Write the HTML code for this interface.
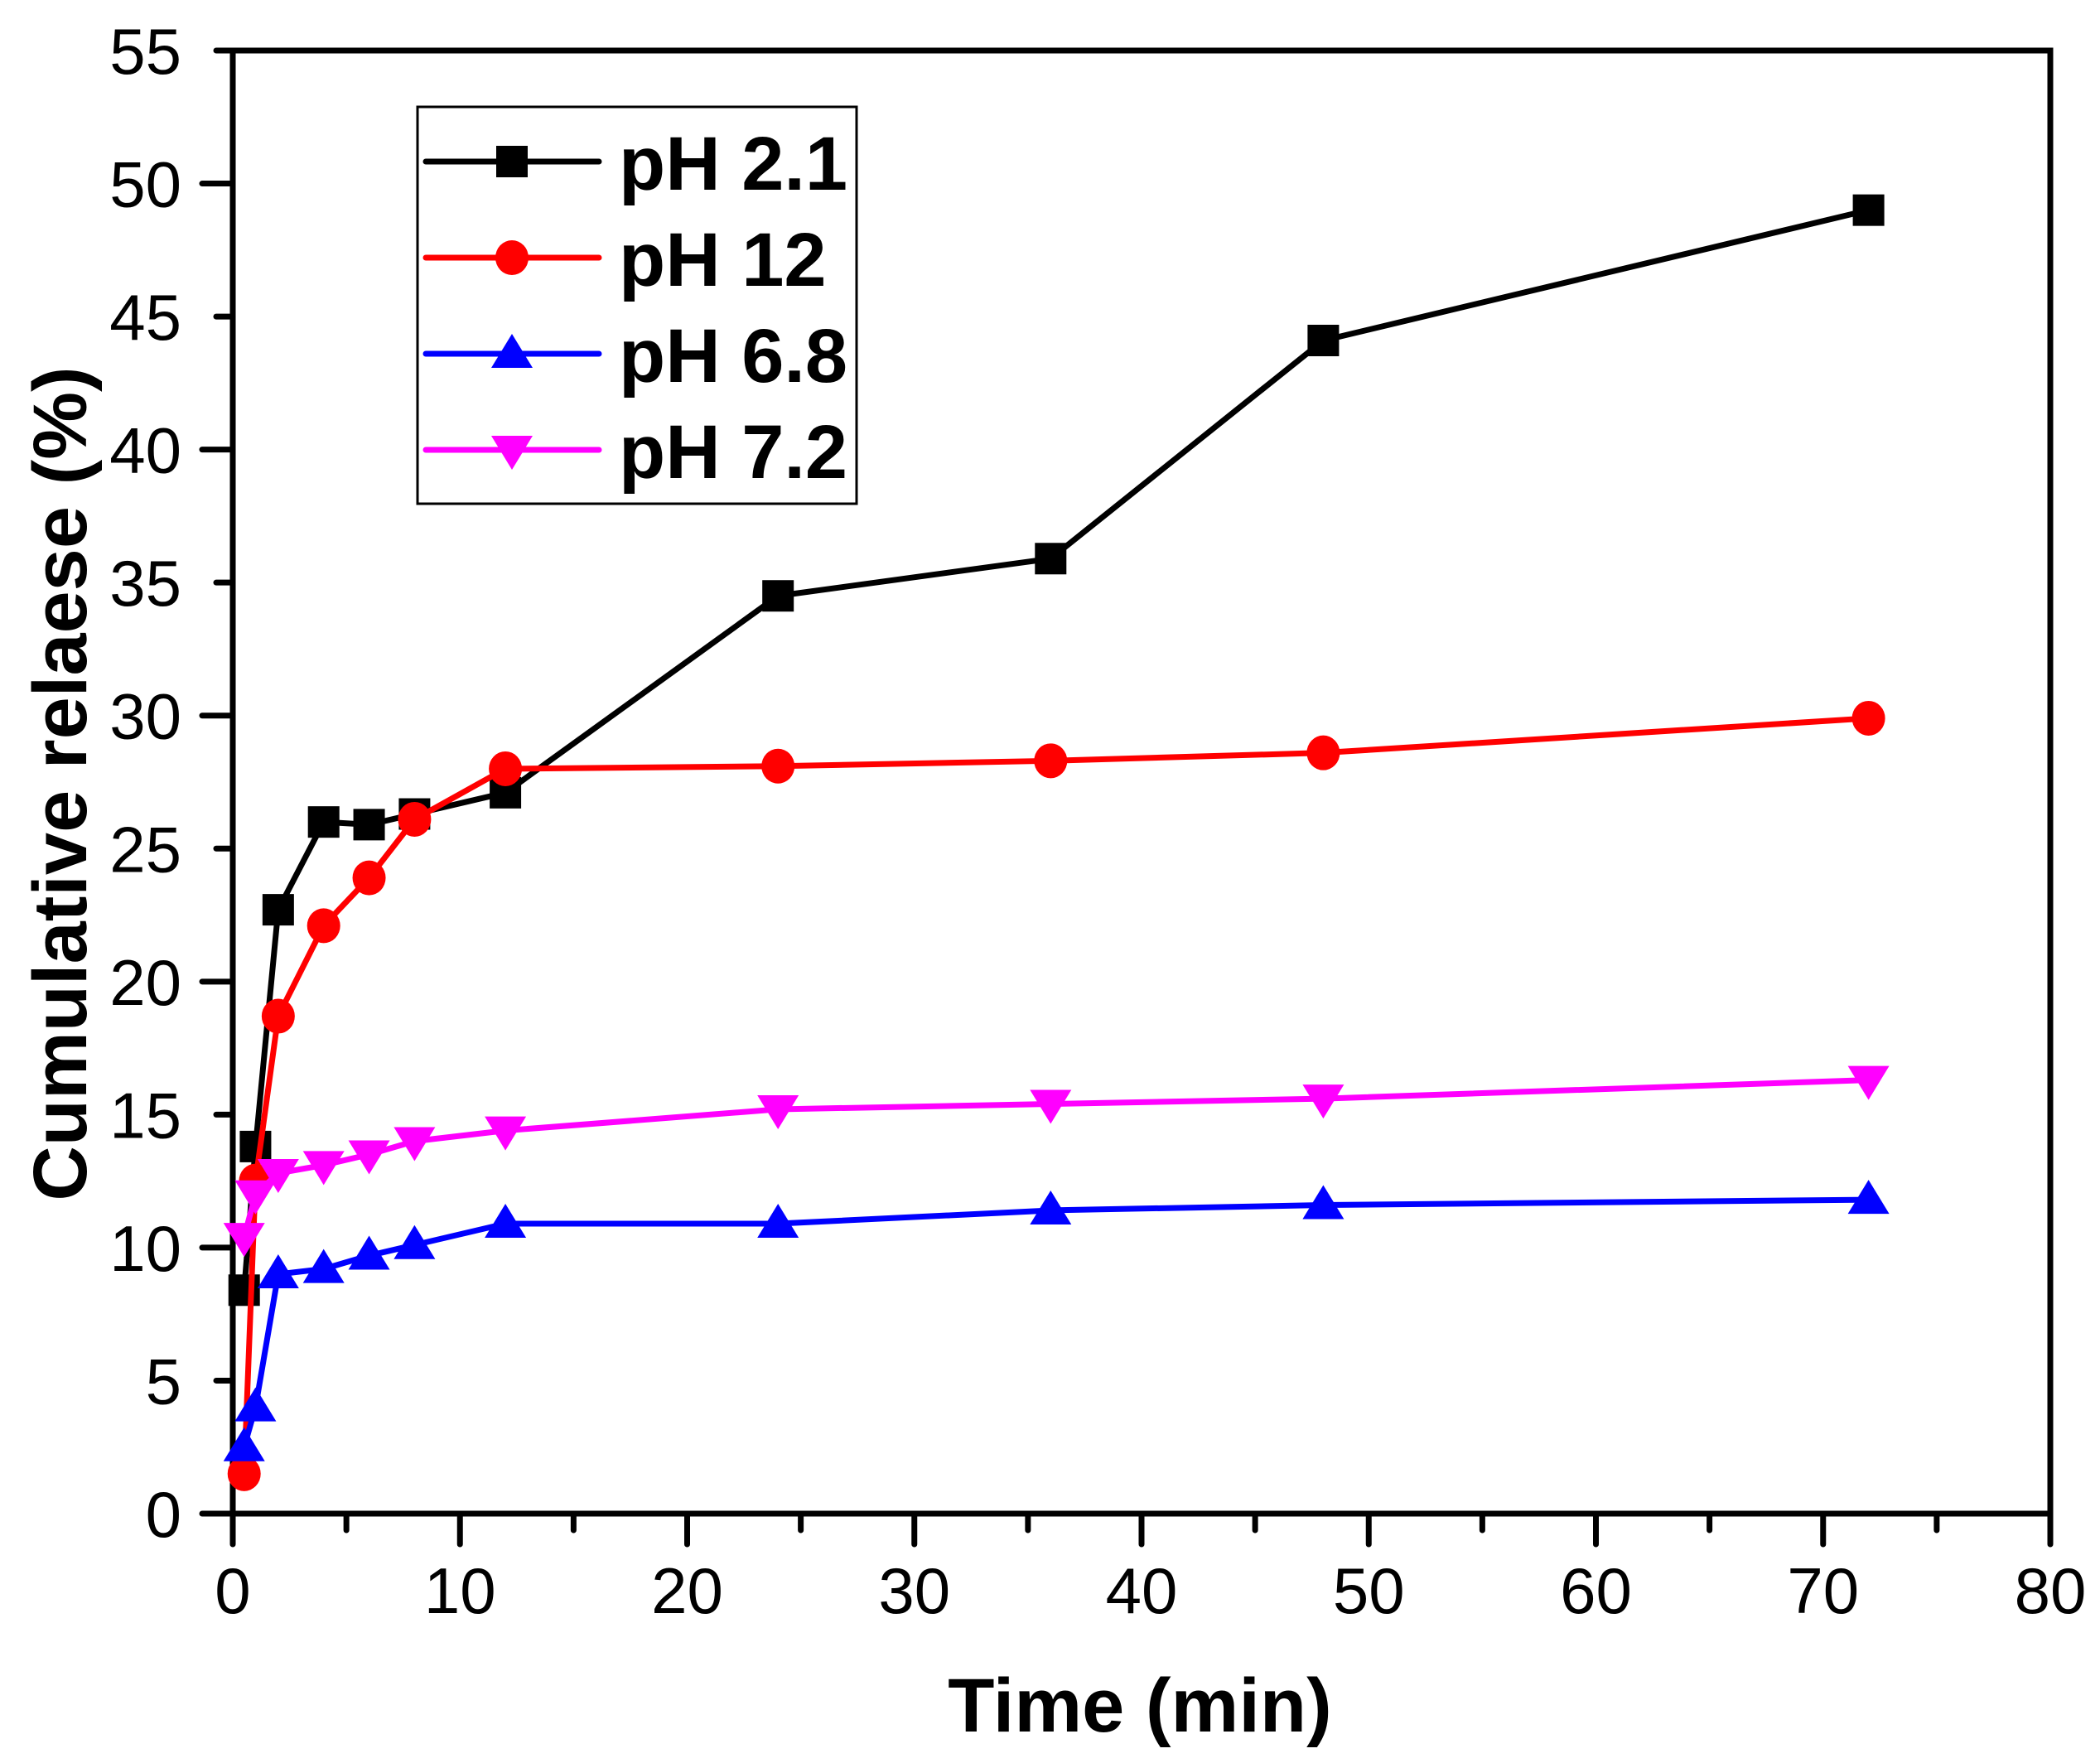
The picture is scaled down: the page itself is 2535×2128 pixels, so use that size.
<!DOCTYPE html>
<html><head><meta charset="utf-8"><style>
html,body{margin:0;padding:0;background:#fff}
svg{display:block}
text{font-family:"Liberation Sans",Arial,sans-serif}
</style></head><body>
<svg id="chart" width="2535" height="2128" viewBox="0 0 2535 2128" xmlns="http://www.w3.org/2000/svg">
<g id="plot"></g>
</svg>
<script>
const times = [0.5, 1, 2, 4, 6, 8, 12, 24, 36, 48, 72];
const ph21 = [8.4, 13.8, 22.7, 26.0, 25.9, 26.3, 27.1, 34.5, 35.9, 44.1, 49.0];
const ph12 = [1.5, 12.5, 18.7, 22.1, 23.9, 26.1, 28.0, 28.1, 28.3, 28.6, 29.9];
const ph68 = [2.5, 4.0, 9.0, 9.2, 9.7, 10.1, 10.9, 10.9, 11.4, 11.6, 11.8];
const ph72 = [10.4, 12.0, 12.8, 13.1, 13.5, 14.0, 14.4, 15.2, 15.4, 15.6, 16.3];
const seriesNames = ["pH 2.1", "pH 12", "pH 6.8", "pH 7.2"];
const xTickLabels = ["0","10","20","30","40","50","60","70","80"];
const yTickLabels = ["0","5","10","15","20","25","30","35","40","45","50","55"];

const L=281,R=2475,T=61,B=1827;
const xMax=80,yMax=55;
function sx(v){return L+(v/xMax)*(R-L);}
function sy(v){return B-(v/yMax)*(B-T);}
const NS="http://www.w3.org/2000/svg";
const g=document.getElementById('plot');
function mk(tag,attrs,parent){const e=document.createElementNS(NS,tag);for(const k in attrs)e.setAttribute(k,attrs[k]);(parent||g).appendChild(e);return e;}

const frame=mk('rect',{x:L,y:T,width:R-L,height:B-T,fill:'none',stroke:'#000','stroke-width':7});



for(let v=0;v<=80;v+=5){
  const major=v%10===0;
  const t=mk('line',{x1:sx(v),x2:sx(v),y1:B,y2:B+(major?37:20),stroke:'#000','stroke-width':7,'stroke-linecap':'round'});
  
  
}
xTickLabels.forEach((s,i)=>{
  const t=mk('text',{x:sx(+s),y:1947,'font-size':78,'text-anchor':'middle'});
  t.textContent=s;
  
  
});
for(let v=0;v<=55;v+=5){
  const major=v%10===0;
  const t=mk('line',{x1:L,x2:L-(major?37:20),y1:sy(v),y2:sy(v),stroke:'#000','stroke-width':7,'stroke-linecap':'round'});
  
  
}
yTickLabels.forEach(s=>{
  const t=mk('text',{x:219,y:sy(+s)+28,'font-size':78,'text-anchor':'end'});
  t.textContent=s;
  
  
});

const xt=mk('text',{x:1376,y:2090,'font-size':92,'font-weight':'bold','text-anchor':'middle'});
xt.textContent='Time (min)';


const yt=mk('text',{x:0,y:0,'font-size':92,'font-weight':'bold','text-anchor':'middle',transform:'translate(104,946) rotate(-90)'});
yt.textContent='Cumulative relaese (%)';



function marker(type,cx,cy,color,parent){
  const s=19;
  if(type==='square') return mk('rect',{x:cx-s,y:cy-s,width:2*s,height:2*s,fill:color},parent);
  if(type==='circle') return mk('ellipse',{cx:cx,cy:cy,rx:20,ry:21,fill:color},parent);
  if(type==='up') return mk('polygon',{points:`${cx},${cy-24} ${cx+25},${cy+17} ${cx-25},${cy+17}`,fill:color},parent);
  return mk('polygon',{points:`${cx},${cy+24} ${cx+25},${cy-17} ${cx-25},${cy-17}`,fill:color},parent);
}
const series=[
  {vals:ph21,color:'#000000',m:'square',name:'series-ph-2-1'},
  {vals:ph12,color:'#ff0000',m:'circle',name:'series-ph-12'},
  {vals:ph68,color:'#0000ff',m:'up',name:'series-ph-6-8'},
  {vals:ph72,color:'#ff00ff',m:'down',name:'series-ph-7-2'}
];
series.forEach(se=>{
  const grp=mk('g',{});
  
  
  const pts=times.map((t,i)=>sx(t)+','+sy(se.vals[i])).join(' ');
  const pl=mk('polyline',{points:pts,fill:'none',stroke:se.color,'stroke-width':7,'stroke-linejoin':'round'},grp);
  
  
  times.forEach((t,i)=>{
    const m=marker(se.m,sx(t),sy(se.vals[i]),se.color,grp);
    
    
  });
});

const lg=mk('g',{});


const lb=mk('rect',{x:504,y:129,width:530,height:479,fill:'#fff',stroke:'#000','stroke-width':3},lg);


const ly=[195,311,427,543];
series.forEach((se,i)=>{
  const e=mk('g',{},lg);
  
  
  mk('line',{x1:514,x2:723,y1:ly[i],y2:ly[i],stroke:se.color,'stroke-width':7,'stroke-linecap':'round'},e);
  marker(se.m,618,ly[i],se.color,e);
  const t=mk('text',{x:747,y:ly[i]+34,'font-size':92,'font-weight':'bold'},e);
  t.textContent=seriesNames[i];
});
</script>
</body></html>
